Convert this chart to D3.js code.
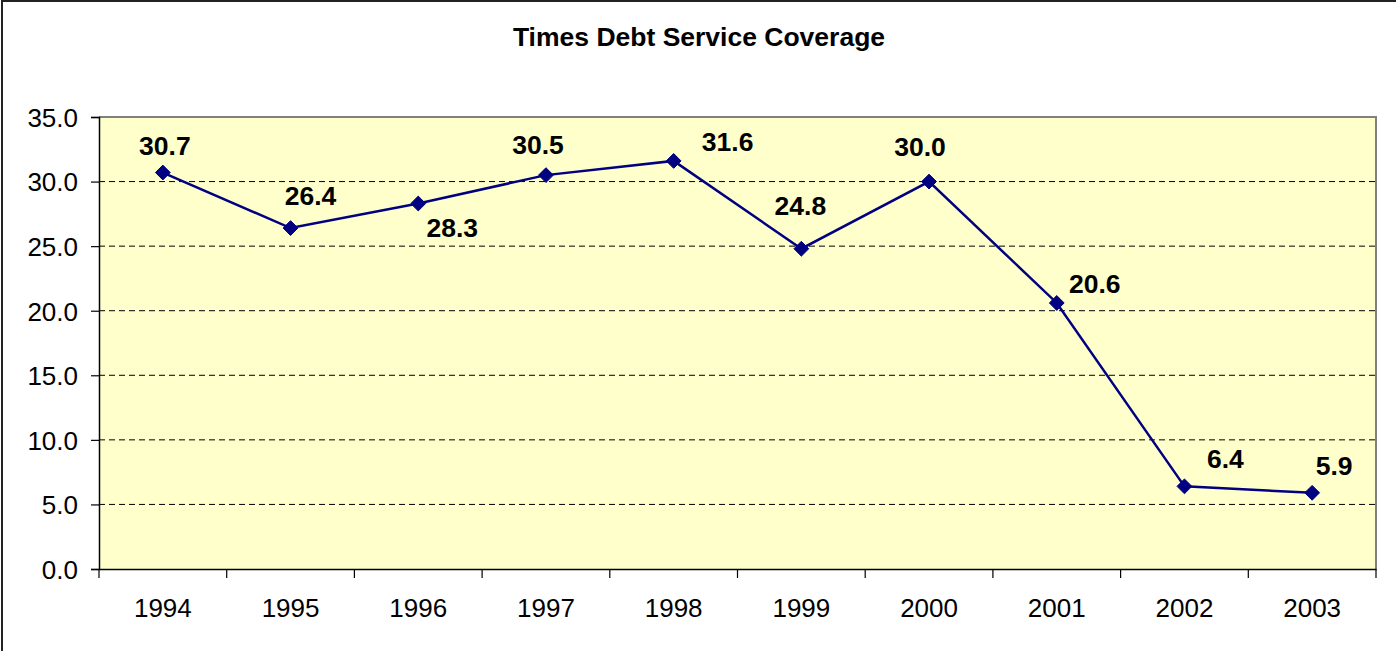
<!DOCTYPE html>
<html>
<head>
<meta charset="utf-8">
<script src="https://cdn.jsdelivr.net/npm/d3@7"></script>
<style>
  html, body { margin: 0; padding: 0; background: #fff; }
  svg { display: block; font-family: "Liberation Sans", Arial, sans-serif; }
</style>
</head>
<body>
<svg id="chart" width="1396" height="651"></svg>
<script>
// Times debt service coverage by year
const years = ["1994", "1995", "1996", "1997", "1998", "1999", "2000", "2001", "2002", "2003"];
const coverage = [30.7, 26.4, 28.3, 30.5, 31.6, 24.8, 30.0, 20.6, 6.4, 5.9];
const yTicks = [0, 5, 10, 15, 20, 25, 30, 35];
// Hand-placed label offsets from each point (dx, dy to text baseline)
const labelDx = [2, 20, 34, -8, 54, -1, -9, 38, 41, 22];
const labelDy = [-18, -23, 33, -21, -10, -34, -26, -10, -18, -18];

const svg = d3.select("#chart");
const W = 1396, H = 651;
const plot = { left: 99, top: 117, right: 1376, bottom: 569 };

// Outer chart frame
svg.append("rect")
  .attr("x", 2).attr("y", 1)
  .attr("width", W + 10).attr("height", H + 10)
  .attr("fill", "#fff").attr("stroke", "#222").attr("stroke-width", 2);

const x = d3.scaleBand().domain(years).range([plot.left, plot.right]).padding(0);
const y = d3.scaleLinear().domain([0, 35]).range([plot.bottom, plot.top]);

// Plot area
svg.append("rect")
  .attr("x", plot.left).attr("y", plot.top)
  .attr("width", plot.right - plot.left).attr("height", plot.bottom - plot.top)
  .attr("fill", "#FFFFCC");
svg.append("path")
  .attr("d", `M${plot.left},${plot.top}H${plot.right}V${plot.bottom}`)
  .attr("fill", "none").attr("stroke", "#808080").attr("stroke-width", 2);

// Dashed gridlines
svg.append("g").selectAll("line")
  .data(yTicks.filter(t => t > 0 && t < 35))
  .join("line")
  .attr("x1", plot.left).attr("x2", plot.right)
  .attr("y1", d => y(d)).attr("y2", d => y(d))
  .attr("stroke", "#000").attr("stroke-width", 1)
  .attr("stroke-dasharray", "6,4");

// Y axis
const yAxis = svg.append("g")
  .attr("transform", `translate(${plot.left},0)`)
  .call(d3.axisLeft(y).tickValues(yTicks).tickFormat(d3.format(".1f")).tickSize(8).tickPadding(13));
yAxis.select(".domain").attr("stroke", "#000").attr("stroke-width", 1.5);
yAxis.selectAll(".tick line").attr("stroke", "#000").attr("stroke-width", 1.2);
yAxis.selectAll("text").attr("font-size", 26).attr("fill", "#000").attr("dy", "0.36em");

// X axis: ticks on category boundaries
const xAxis = svg.append("g")
  .attr("transform", `translate(0,${plot.bottom})`)
  .call(d3.axisBottom(x).tickSize(0).tickPadding(48));
xAxis.select(".domain").attr("stroke", "#000").attr("stroke-width", 1.5);
xAxis.selectAll("text").attr("font-size", 26).attr("fill", "#000").attr("dy", "0");
xAxis.selectAll(".boundary")
  .data(d3.range(years.length + 1))
  .join("line")
  .attr("class", "boundary")
  .attr("x1", i => plot.left + i * x.step()).attr("x2", i => plot.left + i * x.step())
  .attr("y1", 0).attr("y2", 9)
  .attr("stroke", "#000").attr("stroke-width", 1.2);

// Series line
const cx = d => x(d) + x.bandwidth() / 2;
svg.append("path")
  .datum(years.map((yr, i) => [cx(yr), y(coverage[i])]))
  .attr("d", d3.line())
  .attr("fill", "none").attr("stroke", "#000080").attr("stroke-width", 2.5);

// Diamond markers
svg.append("g").selectAll("path")
  .data(years)
  .join("path")
  .attr("transform", (d, i) => `translate(${cx(d)},${y(coverage[i])})`)
  .attr("d", d3.symbol(d3.symbolDiamond2, 140))
  .attr("fill", "#000080").attr("stroke", "#000080").attr("stroke-width", 1);

// Data labels
svg.append("g").selectAll("text")
  .data(years)
  .join("text")
  .attr("x", (d, i) => cx(d) + labelDx[i])
  .attr("y", (d, i) => y(coverage[i]) + labelDy[i])
  .attr("text-anchor", "middle")
  .attr("font-size", 26.5).attr("font-weight", "bold").attr("fill", "#000")
  .text((d, i) => coverage[i].toFixed(1));

// Title
svg.append("text")
  .attr("x", 699).attr("y", 46)
  .attr("text-anchor", "middle")
  .attr("font-size", 26.5).attr("font-weight", "bold").attr("fill", "#000")
  .text("Times Debt Service Coverage");
</script>
</body>
</html>
